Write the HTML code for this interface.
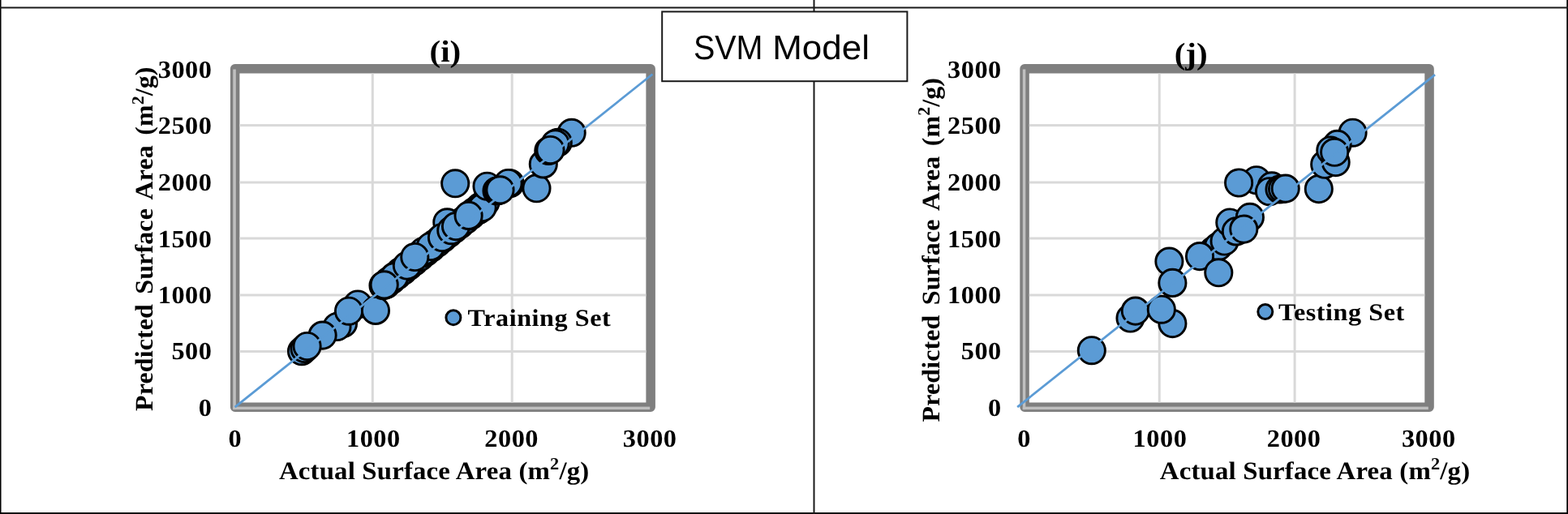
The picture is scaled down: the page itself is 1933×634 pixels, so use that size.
<!DOCTYPE html>
<html lang="en"><head><meta charset="utf-8"><title>SVM Model</title>
<style>html,body{margin:0;padding:0;background:#fff;overflow:hidden}svg text{fill:#000;text-rendering:geometricPrecision}</style></head>
<body>
<svg width="1933" height="634" viewBox="0 0 1933 634" style="display:block">
<rect width="1933" height="634" fill="#fff"/>
<rect x="289.65" y="84.85" width="512.50" height="417.30" fill="#fff" stroke="#7f7f7f" stroke-width="11.5" stroke-linejoin="round"/>
<rect x="457.80" y="90.60" width="3" height="405.80" fill="#d9d9d9"/>
<rect x="629.70" y="90.60" width="3" height="405.80" fill="#d9d9d9"/>
<rect x="295.40" y="153.10" width="501.00" height="3" fill="#d9d9d9"/>
<rect x="295.40" y="223.50" width="501.00" height="3" fill="#d9d9d9"/>
<rect x="295.40" y="292.50" width="501.00" height="3" fill="#d9d9d9"/>
<rect x="295.40" y="362.50" width="501.00" height="3" fill="#d9d9d9"/>
<rect x="295.40" y="432.00" width="501.00" height="3" fill="#d9d9d9"/>
<rect x="287.30" y="85.50" width="3.5" height="419.65" fill="#bfbfbf"/>
<rect x="287.30" y="501.65" width="513.90" height="3.5" fill="#bfbfbf"/>
<circle cx="372.0" cy="433.2" r="16.6" fill="#5b9bd5" stroke="#000" stroke-width="2.9"/>
<circle cx="375.5" cy="430.0" r="16.6" fill="#5b9bd5" stroke="#000" stroke-width="2.9"/>
<circle cx="423.0" cy="399.0" r="16.6" fill="#5b9bd5" stroke="#000" stroke-width="2.9"/>
<circle cx="415.5" cy="403.0" r="16.6" fill="#5b9bd5" stroke="#000" stroke-width="2.9"/>
<circle cx="397.6" cy="413.6" r="16.6" fill="#5b9bd5" stroke="#000" stroke-width="2.9"/>
<circle cx="441.0" cy="375.5" r="16.6" fill="#5b9bd5" stroke="#000" stroke-width="2.9"/>
<circle cx="430.0" cy="383.7" r="16.6" fill="#5b9bd5" stroke="#000" stroke-width="2.9"/>
<circle cx="463.0" cy="382.9" r="16.6" fill="#5b9bd5" stroke="#000" stroke-width="2.9"/>
<circle cx="472.5" cy="352.2" r="16.6" fill="#5b9bd5" stroke="#000" stroke-width="2.9"/>
<circle cx="476.0" cy="351.0" r="16.6" fill="#5b9bd5" stroke="#000" stroke-width="2.9"/>
<circle cx="479.5" cy="346.5" r="16.6" fill="#5b9bd5" stroke="#000" stroke-width="2.9"/>
<circle cx="483.0" cy="345.3" r="16.6" fill="#5b9bd5" stroke="#000" stroke-width="2.9"/>
<circle cx="486.5" cy="340.8" r="16.6" fill="#5b9bd5" stroke="#000" stroke-width="2.9"/>
<circle cx="490.0" cy="339.6" r="16.6" fill="#5b9bd5" stroke="#000" stroke-width="2.9"/>
<circle cx="493.5" cy="335.1" r="16.6" fill="#5b9bd5" stroke="#000" stroke-width="2.9"/>
<circle cx="497.0" cy="333.9" r="16.6" fill="#5b9bd5" stroke="#000" stroke-width="2.9"/>
<circle cx="500.5" cy="329.4" r="16.6" fill="#5b9bd5" stroke="#000" stroke-width="2.9"/>
<circle cx="504.0" cy="328.2" r="16.6" fill="#5b9bd5" stroke="#000" stroke-width="2.9"/>
<circle cx="507.5" cy="323.7" r="16.6" fill="#5b9bd5" stroke="#000" stroke-width="2.9"/>
<circle cx="511.0" cy="322.5" r="16.6" fill="#5b9bd5" stroke="#000" stroke-width="2.9"/>
<circle cx="514.5" cy="318.0" r="16.6" fill="#5b9bd5" stroke="#000" stroke-width="2.9"/>
<circle cx="518.0" cy="316.8" r="16.6" fill="#5b9bd5" stroke="#000" stroke-width="2.9"/>
<circle cx="521.5" cy="312.3" r="16.6" fill="#5b9bd5" stroke="#000" stroke-width="2.9"/>
<circle cx="525.0" cy="311.1" r="16.6" fill="#5b9bd5" stroke="#000" stroke-width="2.9"/>
<circle cx="528.5" cy="306.6" r="16.6" fill="#5b9bd5" stroke="#000" stroke-width="2.9"/>
<circle cx="532.0" cy="305.4" r="16.6" fill="#5b9bd5" stroke="#000" stroke-width="2.9"/>
<circle cx="535.5" cy="300.9" r="16.6" fill="#5b9bd5" stroke="#000" stroke-width="2.9"/>
<circle cx="539.0" cy="299.7" r="16.6" fill="#5b9bd5" stroke="#000" stroke-width="2.9"/>
<circle cx="542.5" cy="295.3" r="16.6" fill="#5b9bd5" stroke="#000" stroke-width="2.9"/>
<circle cx="546.0" cy="294.0" r="16.6" fill="#5b9bd5" stroke="#000" stroke-width="2.9"/>
<circle cx="549.5" cy="289.6" r="16.6" fill="#5b9bd5" stroke="#000" stroke-width="2.9"/>
<circle cx="553.0" cy="288.3" r="16.6" fill="#5b9bd5" stroke="#000" stroke-width="2.9"/>
<circle cx="556.5" cy="283.9" r="16.6" fill="#5b9bd5" stroke="#000" stroke-width="2.9"/>
<circle cx="560.0" cy="282.6" r="16.6" fill="#5b9bd5" stroke="#000" stroke-width="2.9"/>
<circle cx="563.5" cy="278.2" r="16.6" fill="#5b9bd5" stroke="#000" stroke-width="2.9"/>
<circle cx="567.0" cy="276.9" r="16.6" fill="#5b9bd5" stroke="#000" stroke-width="2.9"/>
<circle cx="570.5" cy="272.5" r="16.6" fill="#5b9bd5" stroke="#000" stroke-width="2.9"/>
<circle cx="574.0" cy="271.2" r="16.6" fill="#5b9bd5" stroke="#000" stroke-width="2.9"/>
<circle cx="577.5" cy="266.8" r="16.6" fill="#5b9bd5" stroke="#000" stroke-width="2.9"/>
<circle cx="581.0" cy="265.5" r="16.6" fill="#5b9bd5" stroke="#000" stroke-width="2.9"/>
<circle cx="584.5" cy="261.1" r="16.6" fill="#5b9bd5" stroke="#000" stroke-width="2.9"/>
<circle cx="588.0" cy="259.8" r="16.6" fill="#5b9bd5" stroke="#000" stroke-width="2.9"/>
<circle cx="591.5" cy="255.4" r="16.6" fill="#5b9bd5" stroke="#000" stroke-width="2.9"/>
<circle cx="595.0" cy="254.1" r="16.6" fill="#5b9bd5" stroke="#000" stroke-width="2.9"/>
<circle cx="598.5" cy="249.7" r="16.6" fill="#5b9bd5" stroke="#000" stroke-width="2.9"/>
<circle cx="486.0" cy="341.5" r="16.6" fill="#5b9bd5" stroke="#000" stroke-width="2.9"/>
<circle cx="501.9" cy="327.5" r="16.6" fill="#5b9bd5" stroke="#000" stroke-width="2.9"/>
<circle cx="473.7" cy="351.3" r="16.6" fill="#5b9bd5" stroke="#000" stroke-width="2.9"/>
<circle cx="522.0" cy="310.0" r="16.6" fill="#5b9bd5" stroke="#000" stroke-width="2.9"/>
<circle cx="530.8" cy="304.0" r="16.6" fill="#5b9bd5" stroke="#000" stroke-width="2.9"/>
<circle cx="511.3" cy="317.0" r="16.6" fill="#5b9bd5" stroke="#000" stroke-width="2.9"/>
<circle cx="551.3" cy="274.3" r="16.6" fill="#5b9bd5" stroke="#000" stroke-width="2.9"/>
<circle cx="545.0" cy="293.0" r="16.6" fill="#5b9bd5" stroke="#000" stroke-width="2.9"/>
<circle cx="556.3" cy="284.2" r="16.6" fill="#5b9bd5" stroke="#000" stroke-width="2.9"/>
<circle cx="562.0" cy="279.1" r="16.6" fill="#5b9bd5" stroke="#000" stroke-width="2.9"/>
<circle cx="590.0" cy="259.0" r="16.6" fill="#5b9bd5" stroke="#000" stroke-width="2.9"/>
<circle cx="594.6" cy="256.0" r="16.6" fill="#5b9bd5" stroke="#000" stroke-width="2.9"/>
<circle cx="577.6" cy="265.9" r="16.6" fill="#5b9bd5" stroke="#000" stroke-width="2.9"/>
<circle cx="561.2" cy="226.3" r="16.6" fill="#5b9bd5" stroke="#000" stroke-width="2.9"/>
<circle cx="600.5" cy="229.7" r="16.6" fill="#5b9bd5" stroke="#000" stroke-width="2.9"/>
<circle cx="612.5" cy="235.5" r="16.6" fill="#5b9bd5" stroke="#000" stroke-width="2.9"/>
<circle cx="614.5" cy="235.0" r="16.6" fill="#5b9bd5" stroke="#000" stroke-width="2.9"/>
<circle cx="628.8" cy="226.3" r="16.6" fill="#5b9bd5" stroke="#000" stroke-width="2.9"/>
<circle cx="626.5" cy="226.0" r="16.6" fill="#5b9bd5" stroke="#000" stroke-width="2.9"/>
<circle cx="616.5" cy="234.3" r="16.6" fill="#5b9bd5" stroke="#000" stroke-width="2.9"/>
<circle cx="661.5" cy="232.3" r="16.6" fill="#5b9bd5" stroke="#000" stroke-width="2.9"/>
<circle cx="669.8" cy="202.4" r="16.6" fill="#5b9bd5" stroke="#000" stroke-width="2.9"/>
<circle cx="704.7" cy="163.8" r="16.6" fill="#5b9bd5" stroke="#000" stroke-width="2.9"/>
<circle cx="687.8" cy="175.7" r="16.6" fill="#5b9bd5" stroke="#000" stroke-width="2.9"/>
<circle cx="684.6" cy="177.3" r="16.6" fill="#5b9bd5" stroke="#000" stroke-width="2.9"/>
<circle cx="676.3" cy="186.0" r="16.6" fill="#5b9bd5" stroke="#000" stroke-width="2.9"/>
<circle cx="678.5" cy="185.0" r="16.6" fill="#5b9bd5" stroke="#000" stroke-width="2.9"/>
<circle cx="378.6" cy="427.0" r="16.6" fill="#5b9bd5" stroke="#000" stroke-width="2.9"/>
<line x1="289.6" y1="502.1" x2="804.4" y2="91.5" stroke="#5b9bd5" stroke-width="2.8" stroke-linecap="butt"/>
<circle cx="558.9" cy="391.7" r="9.0" fill="#5b9bd5" stroke="#000" stroke-width="3.0"/>
<text transform="translate(576.60,402.00) scale(1.08,1)" font-family="'Liberation Serif', 'DejaVu Serif', serif" font-weight="bold" font-size="29.8" text-anchor="start" letter-spacing="0.5" >Training Set</text>
<text transform="translate(261.50,95.70) scale(1.06,1)" font-family="'Liberation Serif', 'DejaVu Serif', serif" font-weight="bold" font-size="30.5" text-anchor="end" letter-spacing="0.5" >3000</text>
<text transform="translate(261.50,165.30) scale(1.06,1)" font-family="'Liberation Serif', 'DejaVu Serif', serif" font-weight="bold" font-size="30.5" text-anchor="end" letter-spacing="0.5" >2500</text>
<text transform="translate(261.50,235.00) scale(1.06,1)" font-family="'Liberation Serif', 'DejaVu Serif', serif" font-weight="bold" font-size="30.5" text-anchor="end" letter-spacing="0.5" >2000</text>
<text transform="translate(261.50,304.60) scale(1.06,1)" font-family="'Liberation Serif', 'DejaVu Serif', serif" font-weight="bold" font-size="30.5" text-anchor="end" letter-spacing="0.5" >1500</text>
<text transform="translate(261.50,374.20) scale(1.06,1)" font-family="'Liberation Serif', 'DejaVu Serif', serif" font-weight="bold" font-size="30.5" text-anchor="end" letter-spacing="0.5" >1000</text>
<text transform="translate(261.50,442.90) scale(1.06,1)" font-family="'Liberation Serif', 'DejaVu Serif', serif" font-weight="bold" font-size="30.5" text-anchor="end" letter-spacing="0.5" >500</text>
<text transform="translate(261.50,513.20) scale(1.06,1)" font-family="'Liberation Serif', 'DejaVu Serif', serif" font-weight="bold" font-size="30.5" text-anchor="end" letter-spacing="0.5" >0</text>
<text transform="translate(289.80,551.30) scale(1.06,1)" font-family="'Liberation Serif', 'DejaVu Serif', serif" font-weight="bold" font-size="30.5" text-anchor="middle" letter-spacing="0.5" >0</text>
<text transform="translate(460.35,551.30) scale(1.06,1)" font-family="'Liberation Serif', 'DejaVu Serif', serif" font-weight="bold" font-size="30.5" text-anchor="middle" letter-spacing="0.5" >1000</text>
<text transform="translate(630.65,551.30) scale(1.06,1)" font-family="'Liberation Serif', 'DejaVu Serif', serif" font-weight="bold" font-size="30.5" text-anchor="middle" letter-spacing="0.5" >2000</text>
<text transform="translate(801.15,551.30) scale(1.06,1)" font-family="'Liberation Serif', 'DejaVu Serif', serif" font-weight="bold" font-size="30.5" text-anchor="middle" letter-spacing="0.5" >3000</text>
<text transform="translate(343.90,590.60) scale(1.06,1)" font-family="'Liberation Serif', 'DejaVu Serif', serif" font-weight="bold" font-size="31.0" text-anchor="start" letter-spacing="0.15" >Actual Surface Area (m<tspan font-size="21.08" dy="-11.47">2</tspan><tspan dy="11.47">/g)</tspan></text>
<text transform="translate(188.00,507.00) rotate(-90) scale(1.03,1)" font-family="'Liberation Serif', 'DejaVu Serif', serif" font-weight="bold" font-size="31.0" text-anchor="start" letter-spacing="0.15" word-spacing="4.0">Predicted Surface Area (m<tspan font-size="21.08" dy="-11.47">2</tspan><tspan dy="11.47">/g)</tspan></text>
<text transform="translate(548.85,75.60) scale(1.08,1)" font-family="'Liberation Serif', 'DejaVu Serif', serif" font-weight="bold" font-size="38" text-anchor="middle" letter-spacing="0" >(i)</text>
<rect x="1263.05" y="84.85" width="499.00" height="417.30" fill="#fff" stroke="#7f7f7f" stroke-width="11.5" stroke-linejoin="round"/>
<rect x="1427.75" y="90.60" width="3" height="405.80" fill="#d9d9d9"/>
<rect x="1594.60" y="90.60" width="3" height="405.80" fill="#d9d9d9"/>
<rect x="1268.80" y="153.10" width="487.50" height="3" fill="#d9d9d9"/>
<rect x="1268.80" y="223.50" width="487.50" height="3" fill="#d9d9d9"/>
<rect x="1268.80" y="292.50" width="487.50" height="3" fill="#d9d9d9"/>
<rect x="1268.80" y="362.50" width="487.50" height="3" fill="#d9d9d9"/>
<rect x="1268.80" y="432.00" width="487.50" height="3" fill="#d9d9d9"/>
<rect x="1260.80" y="85.50" width="3.5" height="419.65" fill="#bfbfbf"/>
<rect x="1260.80" y="501.65" width="500.00" height="3.5" fill="#bfbfbf"/>
<circle cx="1345.8" cy="432.2" r="16.6" fill="#5b9bd5" stroke="#000" stroke-width="2.9"/>
<circle cx="1393.5" cy="392.5" r="16.6" fill="#5b9bd5" stroke="#000" stroke-width="2.9"/>
<circle cx="1399.8" cy="383.6" r="16.6" fill="#5b9bd5" stroke="#000" stroke-width="2.9"/>
<circle cx="1445.4" cy="399.1" r="16.6" fill="#5b9bd5" stroke="#000" stroke-width="2.9"/>
<circle cx="1431.8" cy="381.7" r="16.6" fill="#5b9bd5" stroke="#000" stroke-width="2.9"/>
<circle cx="1441.4" cy="322.6" r="16.6" fill="#5b9bd5" stroke="#000" stroke-width="2.9"/>
<circle cx="1445.4" cy="348.9" r="16.6" fill="#5b9bd5" stroke="#000" stroke-width="2.9"/>
<circle cx="1496.0" cy="309.0" r="16.6" fill="#5b9bd5" stroke="#000" stroke-width="2.9"/>
<circle cx="1502.0" cy="304.0" r="16.6" fill="#5b9bd5" stroke="#000" stroke-width="2.9"/>
<circle cx="1509.6" cy="297.5" r="16.6" fill="#5b9bd5" stroke="#000" stroke-width="2.9"/>
<circle cx="1516.3" cy="274.5" r="16.6" fill="#5b9bd5" stroke="#000" stroke-width="2.9"/>
<circle cx="1523.9" cy="285.4" r="16.6" fill="#5b9bd5" stroke="#000" stroke-width="2.9"/>
<circle cx="1540.9" cy="267.9" r="16.6" fill="#5b9bd5" stroke="#000" stroke-width="2.9"/>
<circle cx="1533.3" cy="282.6" r="16.6" fill="#5b9bd5" stroke="#000" stroke-width="2.9"/>
<circle cx="1479.0" cy="316.1" r="16.6" fill="#5b9bd5" stroke="#000" stroke-width="2.9"/>
<circle cx="1502.3" cy="336.3" r="16.6" fill="#5b9bd5" stroke="#000" stroke-width="2.9"/>
<circle cx="1548.9" cy="222.2" r="16.6" fill="#5b9bd5" stroke="#000" stroke-width="2.9"/>
<circle cx="1527.1" cy="225.5" r="16.6" fill="#5b9bd5" stroke="#000" stroke-width="2.9"/>
<circle cx="1567.8" cy="229.4" r="16.6" fill="#5b9bd5" stroke="#000" stroke-width="2.9"/>
<circle cx="1565.0" cy="236.2" r="16.6" fill="#5b9bd5" stroke="#000" stroke-width="2.9"/>
<circle cx="1577.5" cy="233.5" r="16.6" fill="#5b9bd5" stroke="#000" stroke-width="2.9"/>
<circle cx="1581.0" cy="233.0" r="16.6" fill="#5b9bd5" stroke="#000" stroke-width="2.9"/>
<circle cx="1584.7" cy="232.6" r="16.6" fill="#5b9bd5" stroke="#000" stroke-width="2.9"/>
<circle cx="1625.8" cy="233.1" r="16.6" fill="#5b9bd5" stroke="#000" stroke-width="2.9"/>
<circle cx="1633.2" cy="202.8" r="16.6" fill="#5b9bd5" stroke="#000" stroke-width="2.9"/>
<circle cx="1646.7" cy="200.1" r="16.6" fill="#5b9bd5" stroke="#000" stroke-width="2.9"/>
<circle cx="1667.6" cy="163.7" r="16.6" fill="#5b9bd5" stroke="#000" stroke-width="2.9"/>
<circle cx="1648.6" cy="177.9" r="16.6" fill="#5b9bd5" stroke="#000" stroke-width="2.9"/>
<circle cx="1640.3" cy="185.5" r="16.6" fill="#5b9bd5" stroke="#000" stroke-width="2.9"/>
<circle cx="1645.2" cy="187.8" r="16.6" fill="#5b9bd5" stroke="#000" stroke-width="2.9"/>
<line x1="1254.2" y1="502.1" x2="1769.0" y2="92.1" stroke="#5b9bd5" stroke-width="2.8" stroke-linecap="butt"/>
<circle cx="1559.8" cy="384.5" r="9.0" fill="#5b9bd5" stroke="#000" stroke-width="3.0"/>
<text transform="translate(1575.90,395.00) scale(1.08,1)" font-family="'Liberation Serif', 'DejaVu Serif', serif" font-weight="bold" font-size="29.8" text-anchor="start" letter-spacing="0.5" >Testing Set</text>
<text transform="translate(1234.80,95.70) scale(1.06,1)" font-family="'Liberation Serif', 'DejaVu Serif', serif" font-weight="bold" font-size="30.5" text-anchor="end" letter-spacing="0.5" >3000</text>
<text transform="translate(1234.80,165.30) scale(1.06,1)" font-family="'Liberation Serif', 'DejaVu Serif', serif" font-weight="bold" font-size="30.5" text-anchor="end" letter-spacing="0.5" >2500</text>
<text transform="translate(1234.80,235.00) scale(1.06,1)" font-family="'Liberation Serif', 'DejaVu Serif', serif" font-weight="bold" font-size="30.5" text-anchor="end" letter-spacing="0.5" >2000</text>
<text transform="translate(1234.80,304.60) scale(1.06,1)" font-family="'Liberation Serif', 'DejaVu Serif', serif" font-weight="bold" font-size="30.5" text-anchor="end" letter-spacing="0.5" >1500</text>
<text transform="translate(1234.80,374.20) scale(1.06,1)" font-family="'Liberation Serif', 'DejaVu Serif', serif" font-weight="bold" font-size="30.5" text-anchor="end" letter-spacing="0.5" >1000</text>
<text transform="translate(1234.80,442.90) scale(1.06,1)" font-family="'Liberation Serif', 'DejaVu Serif', serif" font-weight="bold" font-size="30.5" text-anchor="end" letter-spacing="0.5" >500</text>
<text transform="translate(1234.80,513.20) scale(1.06,1)" font-family="'Liberation Serif', 'DejaVu Serif', serif" font-weight="bold" font-size="30.5" text-anchor="end" letter-spacing="0.5" >0</text>
<text transform="translate(1262.50,551.30) scale(1.06,1)" font-family="'Liberation Serif', 'DejaVu Serif', serif" font-weight="bold" font-size="30.5" text-anchor="middle" letter-spacing="0.5" >0</text>
<text transform="translate(1430.00,551.30) scale(1.06,1)" font-family="'Liberation Serif', 'DejaVu Serif', serif" font-weight="bold" font-size="30.5" text-anchor="middle" letter-spacing="0.5" >1000</text>
<text transform="translate(1595.10,551.30) scale(1.06,1)" font-family="'Liberation Serif', 'DejaVu Serif', serif" font-weight="bold" font-size="30.5" text-anchor="middle" letter-spacing="0.5" >2000</text>
<text transform="translate(1761.30,551.30) scale(1.06,1)" font-family="'Liberation Serif', 'DejaVu Serif', serif" font-weight="bold" font-size="30.5" text-anchor="middle" letter-spacing="0.5" >3000</text>
<text transform="translate(1429.80,590.60) scale(1.06,1)" font-family="'Liberation Serif', 'DejaVu Serif', serif" font-weight="bold" font-size="31.0" text-anchor="start" letter-spacing="0.15" >Actual Surface Area (m<tspan font-size="21.08" dy="-11.47">2</tspan><tspan dy="11.47">/g)</tspan></text>
<text transform="translate(1157.50,520.50) rotate(-90) scale(1.03,1)" font-family="'Liberation Serif', 'DejaVu Serif', serif" font-weight="bold" font-size="31.0" text-anchor="start" letter-spacing="0.15" word-spacing="4.0">Predicted Surface Area (m<tspan font-size="21.08" dy="-11.47">2</tspan><tspan dy="11.47">/g)</tspan></text>
<text transform="translate(1468.20,79.00) scale(1.08,1)" font-family="'Liberation Serif', 'DejaVu Serif', serif" font-weight="bold" font-size="38" text-anchor="middle" letter-spacing="0" >(j)</text>
<rect x="0" y="0" width="1.5" height="634" fill="#000"/>
<rect x="1931.3" y="0" width="1.7" height="634" fill="#000"/>
<rect x="0" y="632.1" width="1933" height="1.9" fill="#000"/>
<rect x="0" y="8.45" width="1933" height="2" fill="#1a1a1a"/>
<rect x="1002.5" y="0" width="2" height="634" fill="#1a1a1a"/>
<rect x="816.2" y="14.4" width="302.2" height="85.8" fill="#fff" stroke="#1a1a1a" stroke-width="2"/>
<text font-family="'Liberation Sans', 'DejaVu Sans', sans-serif" font-size="42" y="72.9"><tspan x="854.9" textLength="85.6" lengthAdjust="spacingAndGlyphs">SVM</tspan> <tspan x="952.3" textLength="119.6" lengthAdjust="spacingAndGlyphs">Model</tspan></text>
</svg>
</body></html>
